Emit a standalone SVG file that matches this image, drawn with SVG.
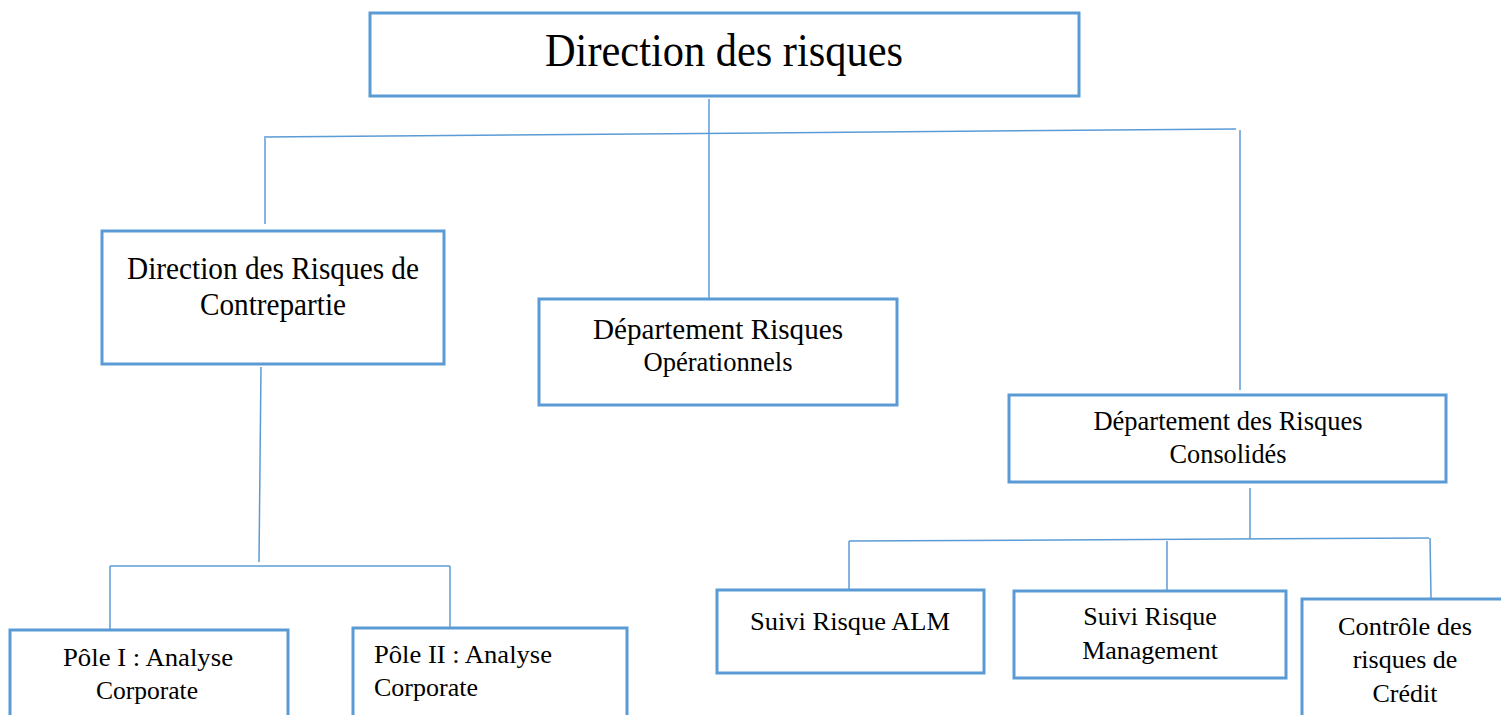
<svg xmlns="http://www.w3.org/2000/svg" width="1501" height="715" viewBox="0 0 1501 715">
  <style>
    .box { fill: #ffffff; stroke: #5B9BD5; stroke-width: 3; }
    .link { fill: none; stroke: #5B9BD5; stroke-width: 1.5; }
    text { font-family: "Liberation Serif", "Times New Roman", serif; fill: #000000; }
    .c { text-anchor: middle; }
  </style>
  <rect width="1501" height="715" fill="#ffffff"/>

  <!-- connectors -->
  <g id="connectors">
    <line class="link" x1="709" y1="99" x2="709" y2="298"/>
    <line class="link" x1="264" y1="137" x2="1236" y2="129"/>
    <line class="link" x1="265" y1="138" x2="265" y2="224"/>
    <line class="link" x1="1240" y1="130" x2="1240" y2="390"/>
    <line class="link" x1="261" y1="367" x2="259" y2="562"/>
    <line class="link" x1="110" y1="566" x2="450" y2="566"/>
    <line class="link" x1="110" y1="566" x2="110" y2="629"/>
    <line class="link" x1="450" y1="566" x2="450" y2="627"/>
    <line class="link" x1="1250" y1="488" x2="1250" y2="539"/>
    <line class="link" x1="849" y1="541" x2="1429" y2="538"/>
    <line class="link" x1="849" y1="541" x2="849" y2="589"/>
    <line class="link" x1="1167" y1="541" x2="1167" y2="590"/>
    <line class="link" x1="1430" y1="538" x2="1431" y2="598"/>
  </g>

  <g id="n-direction">
    <rect class="box" x="370" y="13" width="709" height="83"/>
    <text class="c" x="724" y="66" font-size="46" textLength="358" lengthAdjust="spacingAndGlyphs">Direction des risques</text>
  </g>

  <g id="n-contrepartie">
    <rect class="box" x="102" y="231" width="342" height="133"/>
    <text class="c" x="273" y="279" font-size="31" textLength="292" lengthAdjust="spacingAndGlyphs">Direction des Risques de</text>
    <text class="c" x="273" y="315" font-size="31" textLength="146" lengthAdjust="spacingAndGlyphs">Contrepartie</text>
  </g>

  <g id="n-operationnels">
    <rect class="box" x="539" y="299" width="358" height="106"/>
    <text class="c" x="718" y="339" font-size="29" textLength="250" lengthAdjust="spacingAndGlyphs">Département Risques</text>
    <text class="c" x="718" y="371" font-size="27" textLength="149" lengthAdjust="spacingAndGlyphs">Opérationnels</text>
  </g>

  <g id="n-consolides">
    <rect class="box" x="1009" y="395" width="437" height="87"/>
    <text class="c" x="1228" y="430" font-size="26.5" textLength="269" lengthAdjust="spacingAndGlyphs">Département des Risques</text>
    <text class="c" x="1228" y="463" font-size="26.5" textLength="117" lengthAdjust="spacingAndGlyphs">Consolidés</text>
  </g>

  <g id="n-pole1">
    <rect class="box" x="10" y="630" width="278" height="90"/>
    <text class="c" x="148" y="666" font-size="26" textLength="170" lengthAdjust="spacingAndGlyphs">Pôle I : Analyse</text>
    <text class="c" x="147" y="699" font-size="26" textLength="102" lengthAdjust="spacingAndGlyphs">Corporate</text>
  </g>

  <g id="n-pole2">
    <rect class="box" x="353" y="628" width="274" height="92"/>
    <text x="374" y="663" font-size="26" textLength="178" lengthAdjust="spacingAndGlyphs">Pôle II : Analyse</text>
    <text x="374" y="696" font-size="26">Corporate</text>
  </g>

  <g id="n-alm">
    <rect class="box" x="717" y="590" width="267" height="83"/>
    <text class="c" x="850" y="630" font-size="26" textLength="200" lengthAdjust="spacingAndGlyphs">Suivi Risque ALM</text>
  </g>

  <g id="n-management">
    <rect class="box" x="1014" y="591" width="272" height="87"/>
    <text class="c" x="1150" y="625" font-size="26">Suivi Risque</text>
    <text class="c" x="1150" y="659" font-size="26">Management</text>
  </g>

  <g id="n-credit">
    <rect class="box" x="1302" y="599" width="205" height="125"/>
    <text class="c" x="1405" y="635" font-size="26" textLength="134" lengthAdjust="spacingAndGlyphs">Contrôle des</text>
    <text class="c" x="1405" y="668" font-size="26">risques de</text>
    <text class="c" x="1405" y="702" font-size="26">Crédit</text>
  </g>
</svg>
